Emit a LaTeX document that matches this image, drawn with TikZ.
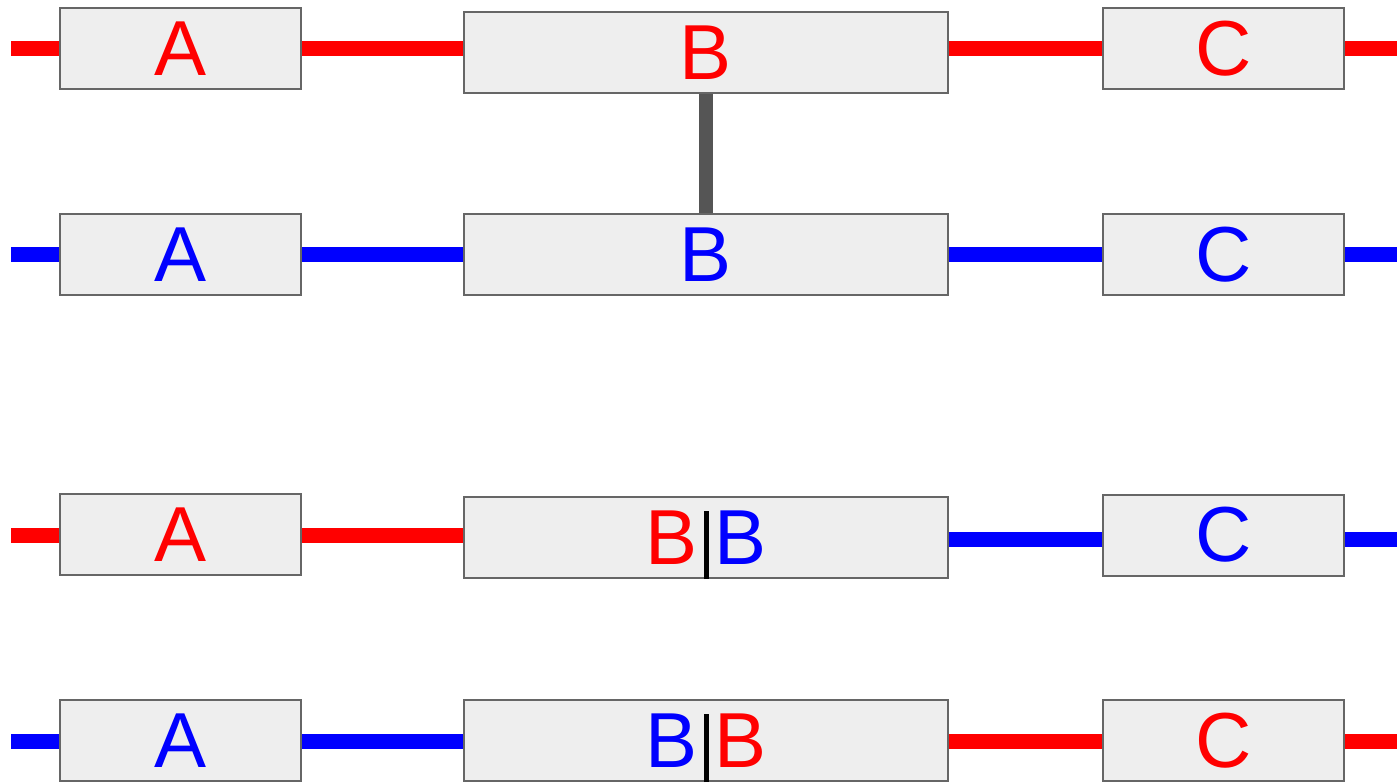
\documentclass[tikz,border=0pt]{standalone}
\usepackage{fontspec}
\setmainfont{Liberation Sans}
\definecolor{boxfill}{HTML}{EEEEEE}
\definecolor{boxline}{HTML}{666666}
\definecolor{barg}{HTML}{555555}
\pgfdeclarelayer{background}
\pgfsetlayers{background,main}
\begin{document}
\begin{tikzpicture}[x=1pt,y=-1pt,
  box/.style={draw=boxline, line width=2pt, fill=boxfill, minimum height=81pt,
    inner sep=0pt, text height=53.7pt, text depth=0pt,
    font=\fontsize{78}{78}\selectfont},
  abox/.style={box, minimum width=241pt},
  bbox/.style={box, minimum width=484pt},
  rl/.style={draw=red, line width=15pt},
  bl/.style={draw=blue, line width=15pt},
  gbar/.style={draw=barg, line width=14pt},
  divider/.style={draw=black, line width=5pt}]
\useasboundingbox (0,0) rectangle (1397,782);

% row 1
\node[abox,text=red] (a1) at (180.5,48.5) {A};
\node[bbox,text=red] (b1) at (706,52.5) {B};
\node[abox,text=red] (c1) at (1223.5,48.5) {C};
% row 2
\node[abox,text=blue] (a2) at (180.5,254.5) {A};
\node[bbox,text=blue] (b2) at (706,254.5) {B};
\node[abox,text=blue] (c2) at (1223.5,254.5) {C};
% row 3
\node[abox,text=red] (a3) at (180.5,534.5) {A};
\node[bbox] (b3) at (706,537.5) {\textcolor{red}{B}\hspace{17.7pt}\textcolor{blue}{B}};
\node[abox,text=blue] (c3) at (1223.5,535) {C};
% row 4
\node[abox,text=blue] (a4) at (180.5,740.5) {A};
\node[bbox] (b4) at (706,740.5) {\textcolor{blue}{B}\hspace{17.7pt}\textcolor{red}{B}};
\node[abox,text=red] (c4) at (1223.5,740.5) {C};

\coordinate (l1) at (11,48.5);   \coordinate (r1) at (1397,48.5);
\coordinate (l2) at (11,254.5);  \coordinate (r2) at (1397,254.5);
\coordinate (l3) at (11,535);    \coordinate (r3) at (1397,539);
\coordinate (l4) at (11,741);    \coordinate (r4) at (1397,741);

\begin{pgfonlayer}{background}
  % row 1
  \draw[rl] (l1) -- (l1 -| a1.west);
  \draw[rl] (a1.east) -- (a1.east -| b1.west);
  \draw[rl] (c1.west -| b1.east) -- (c1.west);
  \draw[rl] (c1.east) -- (r1);
  % row 2
  \draw[bl] (l2) -- (l2 -| a2.west);
  \draw[bl] (a2.east) -- (b2.west);
  \draw[bl] (b2.east) -- (c2.west);
  \draw[bl] (c2.east) -- (r2);
  % row 3
  \draw[rl] (l3) -- (l3 -| a3.west);
  \draw[rl] (a3.east |- l3) -- (b3.west |- l3);
  \draw[bl] (b3.east |- r3) -- (c3.west |- r3);
  \draw[bl] (c3.east |- r3) -- (r3);
  % row 4
  \draw[bl] (l4) -- (l4 -| a4.west);
  \draw[bl] (a4.east |- l4) -- (b4.west |- l4);
  \draw[rl] (b4.east |- r4) -- (c4.west |- r4);
  \draw[rl] (c4.east |- r4) -- (r4);
\end{pgfonlayer}

\draw[gbar] (b1.south) -- (b2.north);
\draw[divider] (b3.south) -- ++(0,-68);
\draw[divider] (b4.south) -- ++(0,-68);
\end{tikzpicture}
\end{document}
